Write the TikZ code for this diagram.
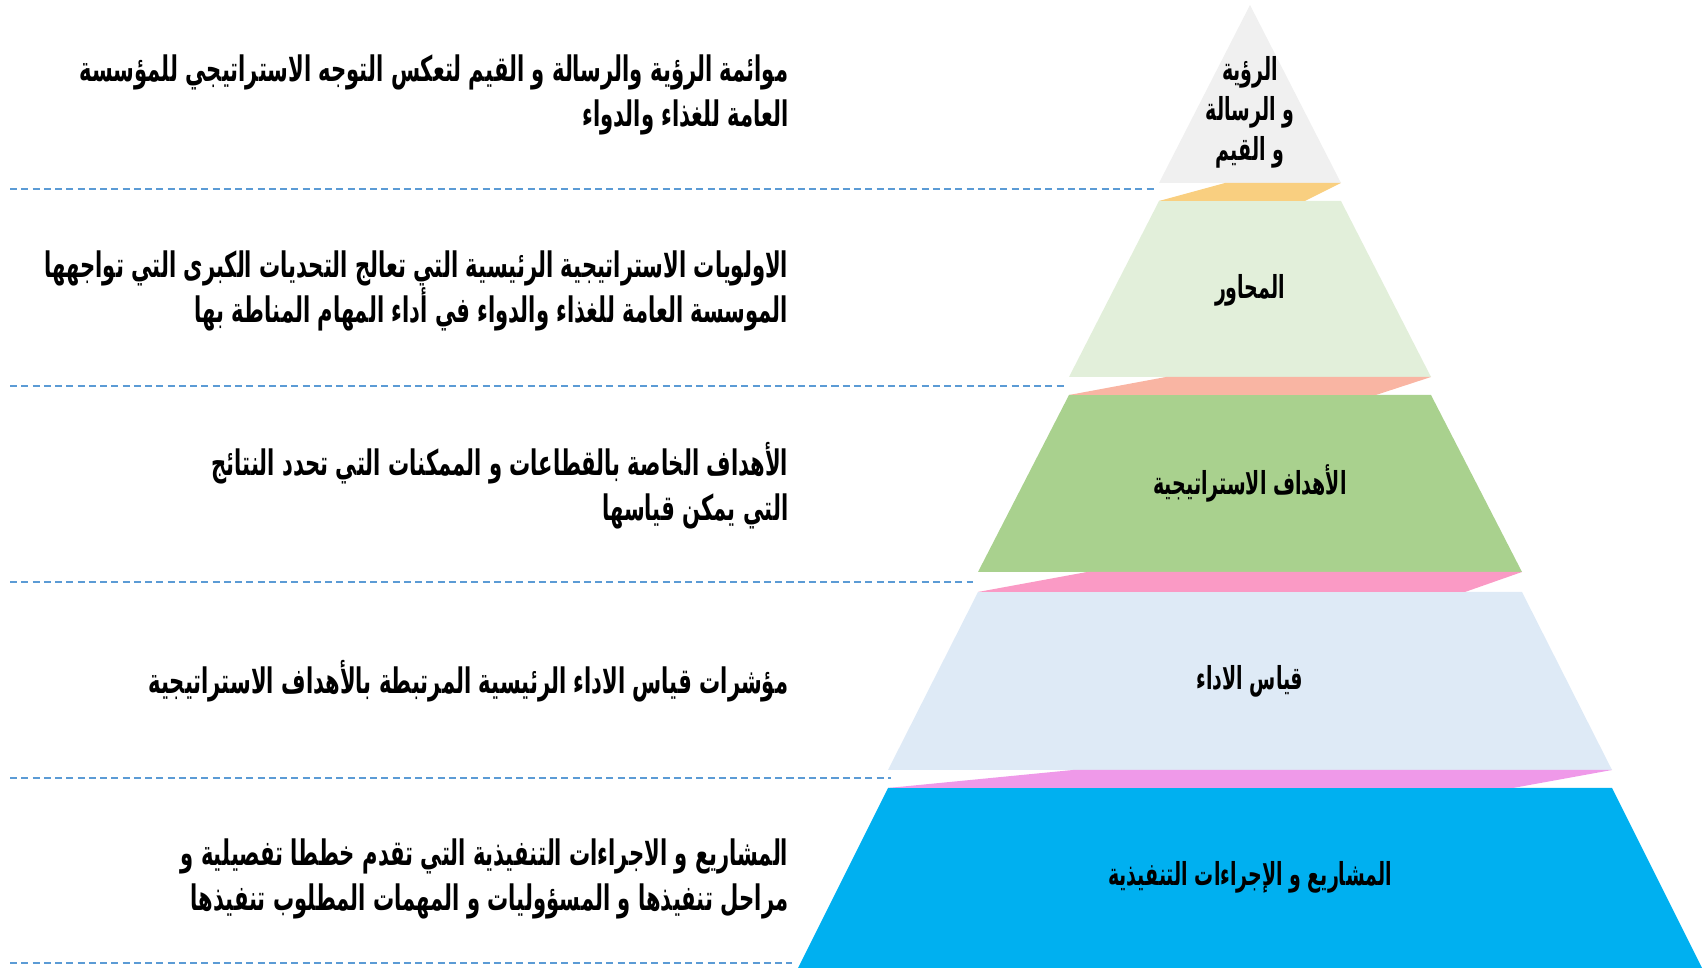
\documentclass[tikz,border=0pt]{standalone}
\usepackage{fontspec}
\usepackage{tikz}
\newfontfamily\arabicfont[Script=Arabic,FakeStretch=0.6]{DejaVu Sans}
\TeXXeTstate=1
\newcommand{\RL}[1]{\beginR #1\endR}

\definecolor{topgray}{HTML}{F0F0F0}
\definecolor{stripA}{HTML}{F9CF80}
\definecolor{bandA}{HTML}{E2EFDA}
\definecolor{stripB}{HTML}{F9B5A3}
\definecolor{bandB}{HTML}{A9D18E}
\definecolor{stripC}{HTML}{FA9AC5}
\definecolor{bandC}{HTML}{DEEAF6}
\definecolor{stripD}{HTML}{EF99E9}
\definecolor{bandD}{HTML}{00B0F0}
\definecolor{guide}{HTML}{5B9BD5}

\tikzset{
  sidetext/.style={anchor=east,inner sep=0pt,align=right,font=\arabicfont\bfseries\fontsize{10}{12.8}\selectfont},
  levellabel/.style={inner sep=0pt,align=center,font=\arabicfont\bfseries\fontsize{9}{11.4}\selectfont},
  guideline/.style={guide,line width=0.6pt,dash pattern=on 2pt off 1.2pt}
}

\begin{document}
\begin{tikzpicture}[x=0.01cm,y=-0.01cm] % one unit = one pixel of the reference
  \useasboundingbox (0,0) rectangle (1702,968);
  % pyramid: top triangle, four bands, twisted strips between them
  \fill[topgray] (1250,5) -- (1341,183) -- (1159,183) -- cycle;
  \foreach \ta/\tb/\ha/\hb/\col in {201/377/91/181/bandA,395/572/181/272/bandB,592/770/272/362/bandC,788/968/362/452/bandD}
    \fill[\col] (1250-\ha,\ta) -- (1250+\ha,\ta) -- (1250+\hb,\tb) -- (1250-\hb,\tb) -- cycle;
  \foreach \ya/\yb/\h/\a/\b/\col in {183/201/91/66/36/stripA,377/395/181/97/55/stripB,572/592/272/109/57/stripC,770/788/362/185/99/stripD}
    \fill[\col] (1250-\h+\a,\ya) -- (1250+\h,\ya) -- (1250+\h-\b,\yb) -- (1250-\h,\yb) -- cycle;
  % dashed guides
  \foreach \y/\xe in {189/1157,386/1067,582/973,778/891,963/792}
    \draw[guideline] (10,\y) -- (\xe,\y);
  % level labels
  \node[levellabel] (vision) at (1250,112) {\RL{الرؤية}\\\RL{و الرسالة}\\\RL{و القيم}};
  \node[levellabel] (axes) at (1250,290) {\RL{المحاور}};
  \node[levellabel] (goals) at (1250,483) {\RL{الأهداف  الاستراتيجية}};
  \node[levellabel] (kpi) at (1250,681) {\RL{قياس الاداء}};
  \node[levellabel] (projects) at (1250,877) {\RL{المشاريع  و الإجراءات التنفيذية}};
  % descriptions
  \node[sidetext] (visiontext) at (789,95) {\RL{موائمة الرؤية والرسالة و القيم لتعكس التوجه الاستراتيجي للمؤسسة}\\\RL{العامة للغذاء والدواء}};
  \node[sidetext] (axestext) at (789,291) {\RL{الاولويات الاستراتيجية الرئيسية التي تعالج التحديات الكبرى التي تواجهها}\\\RL{الموسسة العامة للغذاء والدواء في أداء المهام المناطة بها}};
  \node[sidetext] (goalstext) at (789,486) {\RL{الأهداف الخاصة بالقطاعات و الممكنات التي  تحدد النتائج}\\\RL{التي يمكن قياسها}};
  \node[sidetext] (kpitext) at (789,681) {\RL{مؤشرات قياس الاداء الرئيسية المرتبطة بالأهداف الاستراتيجية}};
  \node[sidetext] (projectstext) at (789,879) {\RL{المشاريع و الاجراءات التنفيذية التي تقدم خططا تفصيلية و}\\\RL{مراحل تنفيذها و المسؤوليات و المهمات المطلوب تنفيذها}};
\end{tikzpicture}
\end{document}
